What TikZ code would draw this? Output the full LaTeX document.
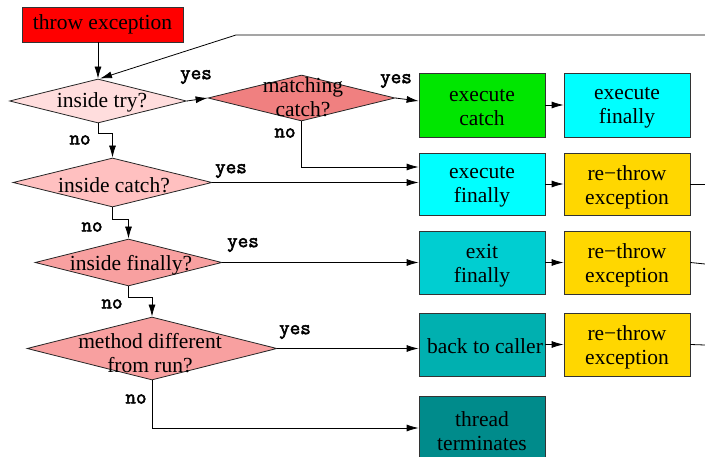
\documentclass[tikz,border=0pt]{standalone}
\usepackage{fontspec}
\setmainfont{Liberation Serif}
\newfontfamily\labfont{Latin Modern Mono}[FakeBold=2.5]
\usetikzlibrary{shapes.geometric,arrows.meta}
\definecolor{cTry}{RGB}{255,221,221}
\definecolor{cMatch}{RGB}{240,128,128}
\definecolor{cCatch}{RGB}{255,192,192}
\definecolor{cFin}{RGB}{248,160,160}
\definecolor{cGreen}{RGB}{0,230,0}
\definecolor{cCyan}{RGB}{0,255,255}
\definecolor{cGold}{RGB}{255,215,0}
\definecolor{cExit}{RGB}{0,206,209}
\definecolor{cBack}{RGB}{0,176,176}
\definecolor{cThread}{RGB}{0,139,139}
\begin{document}
\begin{tikzpicture}[x=1pt,y=-1pt,
  txt/.style={font=\fontsize{21.5}{24}\selectfont, align=center, inner sep=0pt},
  box/.style={txt, draw=black!80, line width=0.8pt, minimum width=126pt, minimum height=64pt},
  dia/.style={diamond, draw=black!85, line width=0.8pt, inner sep=0pt},
  lab/.style={font=\labfont\fontsize{20.5}{20.5}\selectfont, inner sep=0pt},
  arr/.style={-{Latex[length=12pt,width=7pt]}, line width=0.8pt},
  ln/.style={line width=0.8pt}]
\useasboundingbox (0,0) rectangle (705,457);

% start
\node[box, fill=red, minimum width=161pt, minimum height=35pt] (throw) at (102.5,24.5) {throw exception};

% diamonds
\node[dia, fill=cTry, minimum width=177pt, minimum height=44pt] (try) at (98,101) {};
\node[txt] (trytxt) at (102,102) {inside try?};
\node[dia, fill=cMatch, minimum width=187pt, minimum height=46pt] (match) at (301.5,98) {};
\node[txt] (matchtxt) at (303,97) {matching\\catch?};
\node[dia, fill=cCatch, minimum width=199pt, minimum height=49pt] (catch) at (112.5,182.5) {};
\node[txt] (catchtxt) at (114,185) {inside catch?};
\node[dia, fill=cFin, minimum width=187pt, minimum height=47pt] (fin) at (128.5,262.5) {};
\node[txt] (fintxt) at (131,265) {inside finally?};
\node[dia, fill=cFin, minimum width=250pt, minimum height=63pt] (meth) at (152,348.5) {};
\node[txt] (methtxt) at (150,353) {method different\\from run?};

% boxes
\node[box, fill=cGreen] (execcatch) at (482,105) {};
\node[txt] (execcatchtxt) at (482,108) {execute\\catch};
\node[box, fill=cCyan] (execfinA) at (627,105) {};
\node[txt] (execfinAtxt) at (627,108) {execute\\finally};
\node[box, fill=cCyan, minimum height=62pt] (execfinB) at (482,184) {};
\node[txt] (execfinBtxt) at (482,187) {execute\\finally};
\node[box, fill=cGold, minimum height=62pt] (rethrowA) at (627,184) {};
\node[txt] (rethrowAtxt) at (627,187) {re−throw\\exception};
\node[box, fill=cExit, minimum height=63pt] (exitfin) at (482,262.5) {};
\node[txt] (exitfintxt) at (482,265.5) {exit\\finally};
\node[box, fill=cGold, minimum height=63pt] (rethrowB) at (627,262.5) {};
\node[txt] (rethrowBtxt) at (627,265.5) {re−throw\\exception};
\node[box, fill=cBack, minimum height=63pt] (back) at (482,344.5) {};
\node[txt] (backtxt) at (485,346) {back to caller};
\node[box, fill=cGold, minimum height=63pt] (rethrowC) at (627,344.5) {};
\node[txt] (rethrowCtxt) at (627,347.5) {re−throw\\exception};
\node[box, fill=cThread] (thread) at (482,428) {};
\node[txt] (threadtxt) at (482,431) {thread\\terminates};

% free ends
\coordinate (loopR) at (705,35);
\coordinate (loopL) at (236,35);
\coordinate (stubA) at (705,184);
\coordinate (stubB) at (705,264);
\coordinate (stubC) at (705,345);

% connectors
\draw[arr] (try.north |- throw.south) -- (try.north);
\draw[arr] (loopR) -- (loopL) -- ([xshift=2pt]try.north);
\draw[arr] (try.east) -- (match.west);
\draw[arr] (match.east) -- ([yshift=4pt]execcatch.west);
\draw[arr] (execcatch.east) -- (execfinA.west);
\draw[arr] (match.south) |- ([yshift=17pt]execfinB.west);
\draw[arr] (catch.east) -- (catch.east -| execfinB.west);
\draw[arr] (execfinB.east) -- (execfinA.west |- execfinB.east);
\draw[ln] (rethrowA.east) -- (stubA);
\draw[arr] (try.south) -- ++(0,10) -| (catch.north);
\draw[arr] (catch.south) -- ++(0,12) -| (fin.north);
\draw[arr] (fin.east) -- (fin.east -| exitfin.west);
\draw[arr] (exitfin.east) -- (rethrowB.west);
\draw[ln] (rethrowB.east) -- (stubB);
\draw[arr] (fin.south) -- ++(0,11) -| (meth.north);
\draw[arr] (meth.east) -- (meth.east -| back.west);
\draw[arr] (back.east) -- (rethrowC.west);
\draw[ln] (rethrowC.east) -- (stubC);
\draw[arr] (meth.south) |- (thread.west);

% labels
\node[lab] (yesA) at (196,77) {yes};
\node[lab] (noA) at (285,133) {no};
\node[lab] (yesB) at (396,81) {yes};
\node[lab] (noB) at (80,140) {no};
\node[lab] (yesC) at (231,171) {yes};
\node[lab] (noC) at (92,227) {no};
\node[lab] (yesD) at (243,245) {yes};
\node[lab] (noD) at (112,304) {no};
\node[lab] (yesE) at (295,332) {yes};
\node[lab] (noE) at (136,399) {no};
\end{tikzpicture}
\end{document}
